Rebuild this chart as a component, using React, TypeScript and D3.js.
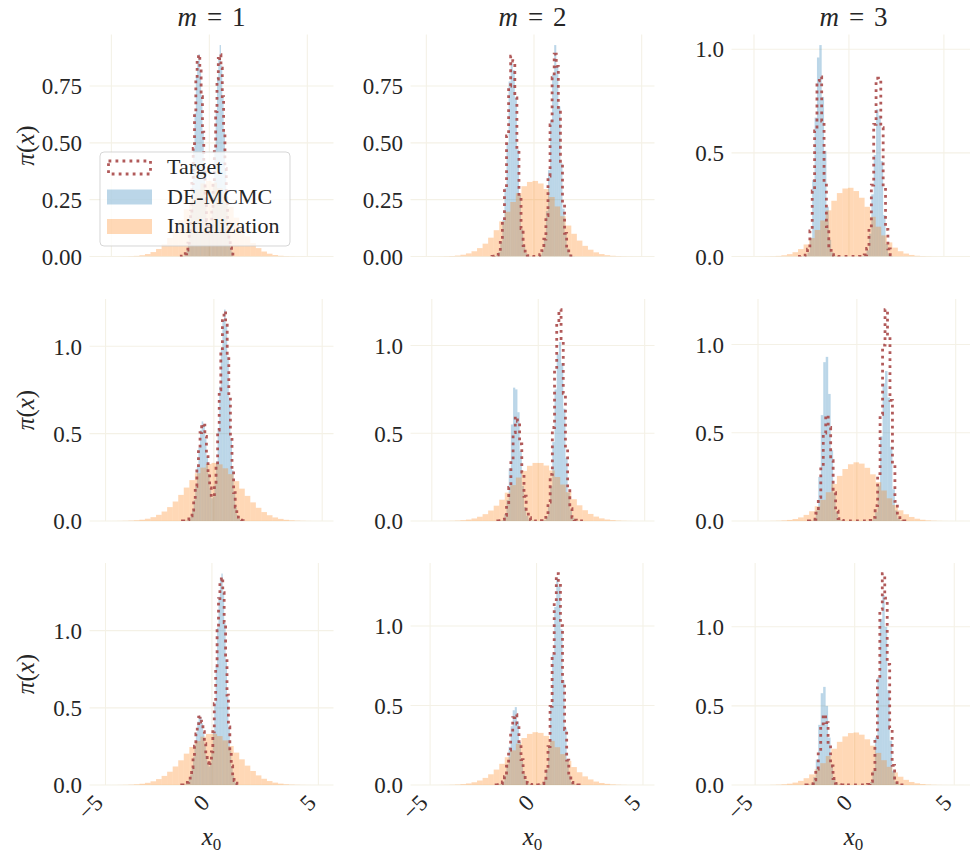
import React from 'react';
import * as d3 from 'd3';

// ---------- data ----------
const COLUMN_M = ['1', '2', '3'];
const X_TICKS = [-5, 0, 5];
const Y_TICKS = [
  [0, 0.25, 0.5, 0.75], [0, 0.25, 0.5, 0.75], [0, 0.5, 1.0],
  [0, 0.5, 1.0], [0, 0.5, 1.0], [0, 0.5, 1.0],
  [0, 0.5, 1.0], [0, 0.5, 1.0], [0, 0.5, 1.0],
];
const LEGEND_LABELS = ['Target', 'DE-MCMC', 'Initialization'];

// histogram ranges (min, max of the samples) per panel, row-major
const INIT_RANGES = [
  [-5.55, 5.77], [-5.22, 5.08], [-5.6, 6.08],
  [-5.23, 5.01], [-5.48, 4.94], [-5.78, 5.44],
  [-5.23, 5.19], [-5.4, 5.02], [-5.63, 5.51],
];
const SAMPLE_RANGES = [
  [-1.5, 1.2], [-1.95, 1.9], [-2.68, 2.3],
  [-1.45, 1.5], [-1.9, 2.2], [-2.45, 2.55],
  [-1.42, 1.24], [-1.9, 2.0], [-2.45, 2.5],
];

// Initialization histograms (40 bins, density)
const INIT_11 = [0.0001, 0, 0.0001, 0.0002, 0.0006, 0.0013, 0.0028, 0.0056, 0.0107, 0.0194, 0.0331, 0.0534, 0.0815, 0.1178, 0.1609, 0.2079, 0.2545, 0.2938, 0.3213, 0.3324, 0.3252, 0.3011, 0.2636, 0.2183, 0.1710, 0.1267, 0.0888, 0.0589, 0.0369, 0.0219, 0.0123, 0.0065, 0.0032, 0.0015, 0.0007, 0.0003, 0.0001, 0, 0, 0.0001];
const INIT_12 = [0.0001, 0.0001, 0.0002, 0.0005, 0.0011, 0.0022, 0.0042, 0.0078, 0.0137, 0.0230, 0.0369, 0.0565, 0.0828, 0.1157, 0.1545, 0.1968, 0.2397, 0.2786, 0.3093, 0.3280, 0.3324, 0.3212, 0.2966, 0.2616, 0.2203, 0.1773, 0.1361, 0.0999, 0.0699, 0.0468, 0.0299, 0.0183, 0.0106, 0.0059, 0.0032, 0.0016, 0.0008, 0.0004, 0.0002, 0.0001];
const INIT_13 = [0.0001, 0, 0.0001, 0.0002, 0.0006, 0.0013, 0.0029, 0.0059, 0.0114, 0.0208, 0.0358, 0.0581, 0.0888, 0.1280, 0.1739, 0.2228, 0.2689, 0.3059, 0.3280, 0.3315, 0.3157, 0.2835, 0.2398, 0.1913, 0.1438, 0.1019, 0.0680, 0.0428, 0.0254, 0.0142, 0.0075, 0.0037, 0.0017, 0.0008, 0.0003, 0.0001, 0, 0, 0, 0.0001];
const INIT_21 = [0.0001, 0.0001, 0.0002, 0.0005, 0.0010, 0.0021, 0.0040, 0.0074, 0.0130, 0.0219, 0.0353, 0.0542, 0.0795, 0.1115, 0.1494, 0.1913, 0.2340, 0.2735, 0.3055, 0.3260, 0.3325, 0.3240, 0.3016, 0.2683, 0.2281, 0.1852, 0.1438, 0.1066, 0.0755, 0.0511, 0.0331, 0.0204, 0.0121, 0.0068, 0.0037, 0.0019, 0.0009, 0.0004, 0.0002, 0.0001];
const INIT_22 = [0.0001, 0, 0.0001, 0.0002, 0.0005, 0.0011, 0.0023, 0.0044, 0.0082, 0.0145, 0.0243, 0.0390, 0.0597, 0.0873, 0.1215, 0.1615, 0.2047, 0.2477, 0.2857, 0.3145, 0.3310, 0.3308, 0.3161, 0.2882, 0.2507, 0.2079, 0.1646, 0.1242, 0.0895, 0.0615, 0.0403, 0.0252, 0.0150, 0.0086, 0.0047, 0.0024, 0.0012, 0.0006, 0.0002, 0.0001];
const INIT_23 = [0.0001, 0, 0, 0.0001, 0.0003, 0.0007, 0.0014, 0.0031, 0.0061, 0.0114, 0.0204, 0.0345, 0.0552, 0.0837, 0.1200, 0.1631, 0.2097, 0.2555, 0.2945, 0.3216, 0.3325, 0.3252, 0.3013, 0.2645, 0.2198, 0.1728, 0.1287, 0.0907, 0.0606, 0.0383, 0.0229, 0.0130, 0.0070, 0.0035, 0.0017, 0.0008, 0.0003, 0.0001, 0, 0.0001];
const INIT_31 = [0.0001, 0.0001, 0.0002, 0.0005, 0.0011, 0.0022, 0.0043, 0.0080, 0.0141, 0.0239, 0.0383, 0.0589, 0.0861, 0.1200, 0.1600, 0.2032, 0.2463, 0.2848, 0.3132, 0.3308, 0.3311, 0.3169, 0.2891, 0.2523, 0.2097, 0.1664, 0.1255, 0.0907, 0.0623, 0.0404, 0.0256, 0.0154, 0.0088, 0.0047, 0.0025, 0.0012, 0.0006, 0.0003, 0.0001, 0.0001];
const INIT_32 = [0.0001, 0, 0.0001, 0.0003, 0.0007, 0.0014, 0.0028, 0.0054, 0.0098, 0.0171, 0.0282, 0.0447, 0.0674, 0.0971, 0.1332, 0.1746, 0.2181, 0.2601, 0.2957, 0.3213, 0.3321, 0.3279, 0.3089, 0.2774, 0.2379, 0.1945, 0.1518, 0.1128, 0.0802, 0.0543, 0.0351, 0.0217, 0.0127, 0.0072, 0.0038, 0.0019, 0.0009, 0.0004, 0.0002, 0.0001];
const INIT_33 = [0.0001, 0, 0.0001, 0.0002, 0.0004, 0.0010, 0.0021, 0.0043, 0.0082, 0.0151, 0.0262, 0.0430, 0.0670, 0.0988, 0.1379, 0.1827, 0.2292, 0.2727, 0.3071, 0.3280, 0.3317, 0.3180, 0.2888, 0.2486, 0.2027, 0.1567, 0.1147, 0.0796, 0.0523, 0.0326, 0.0192, 0.0107, 0.0057, 0.0028, 0.0013, 0.0006, 0.0003, 0.0001, 0, 0.0001];

// DE-MCMC histograms (40 bins over SAMPLE_RANGES)
const MCMC_11 = [0, 0.001, 0.002, 0.005, 0.011, 0.03, 0.06, 0.115, 0.2, 0.33, 0.47, 0.63, 0.79, 0.86, 0.89, 0.82, 0.71, 0.55, 0.38, 0.26, 0.16, 0.11, 0.1, 0.13, 0.21, 0.32, 0.47, 0.64, 0.79, 0.87, 0.93, 0.84, 0.7, 0.55, 0.39, 0.25, 0.15, 0.08, 0.04, 0.02];
const MCMC_12 = [0, 0.001, 0.006, 0.02, 0.065, 0.16, 0.3, 0.5, 0.77, 0.85, 0.82, 0.7, 0.47, 0.27, 0.12, 0.05, 0.015, 0.004, 0.001, 0, 0, 0, 0.002, 0.008, 0.027, 0.08, 0.2, 0.38, 0.6, 0.8, 0.93, 0.84, 0.66, 0.41, 0.21, 0.1, 0.035, 0.01, 0.003, 0.001];
const MCMC_13 = [0, 0, 0.001, 0.005, 0.02, 0.09, 0.37, 0.67, 0.96, 1.02, 0.77, 0.51, 0.24, 0.08, 0.02, 0.004, 0, 0, 0, 0, 0, 0, 0, 0, 0, 0, 0, 0.002, 0.008, 0.03, 0.11, 0.3, 0.49, 0.71, 0.68, 0.46, 0.2, 0.06, 0.015, 0.003];
const MCMC_21 = [0, 0.0005, 0.002, 0.005, 0.013, 0.03, 0.065, 0.12, 0.2, 0.31, 0.42, 0.52, 0.57, 0.55, 0.47, 0.37, 0.27, 0.18, 0.13, 0.14, 0.21, 0.34, 0.53, 0.77, 0.99, 1.15, 1.21, 1.12, 0.94, 0.7, 0.47, 0.29, 0.16, 0.08, 0.034, 0.013, 0.005, 0.002, 0.0005, 0.0001];
const MCMC_22 = [0, 0.001, 0.005, 0.04, 0.12, 0.3, 0.55, 0.76, 0.75, 0.62, 0.4, 0.2, 0.08, 0.03, 0.01, 0.003, 0.001, 0, 0, 0, 0.001, 0.005, 0.025, 0.08, 0.2, 0.45, 0.75, 0.95, 1.02, 0.9, 0.64, 0.36, 0.16, 0.06, 0.02, 0.005, 0.001, 0, 0, 0];
const MCMC_23 = [0, 0, 0.01, 0.06, 0.25, 0.6, 0.9, 0.93, 0.72, 0.4, 0.16, 0.05, 0.01, 0.002, 0, 0, 0, 0, 0, 0, 0, 0, 0, 0, 0, 0.002, 0.01, 0.05, 0.2, 0.48, 0.78, 0.85, 0.7, 0.42, 0.18, 0.06, 0.015, 0.003, 0, 0];
const MCMC_31 = [0, 0.001, 0.003, 0.008, 0.018, 0.036, 0.068, 0.115, 0.18, 0.26, 0.34, 0.41, 0.45, 0.44, 0.4, 0.33, 0.26, 0.19, 0.14, 0.12, 0.14, 0.21, 0.34, 0.53, 0.77, 1.02, 1.22, 1.34, 1.37, 1.25, 1.05, 0.81, 0.57, 0.37, 0.22, 0.12, 0.06, 0.028, 0.012, 0.004];
const MCMC_32 = [0, 0.002, 0.007, 0.022, 0.06, 0.13, 0.24, 0.37, 0.47, 0.49, 0.4, 0.27, 0.15, 0.07, 0.03, 0.01, 0.003, 0.001, 0, 0, 0, 0.002, 0.01, 0.035, 0.1, 0.24, 0.5, 0.82, 1.12, 1.3, 1.25, 0.98, 0.66, 0.36, 0.16, 0.06, 0.02, 0.005, 0.001, 0];
const MCMC_33 = [0, 0, 0.01, 0.05, 0.16, 0.38, 0.58, 0.62, 0.5, 0.3, 0.13, 0.04, 0.01, 0.002, 0, 0, 0, 0, 0, 0, 0, 0, 0, 0, 0, 0.003, 0.02, 0.09, 0.3, 0.68, 1.05, 1.2, 1.0, 0.6, 0.28, 0.09, 0.02, 0.005, 0.001, 0];

// Target step histograms (40 bins over SAMPLE_RANGES)
const TARGET_11 = [0, 0.001, 0.002, 0.004, 0.012, 0.028, 0.059, 0.113, 0.2, 0.321, 0.475, 0.637, 0.78, 0.871, 0.888, 0.829, 0.703, 0.547, 0.39, 0.256, 0.158, 0.107, 0.098, 0.131, 0.207, 0.324, 0.476, 0.637, 0.78, 0.871, 0.888, 0.829, 0.703, 0.547, 0.388, 0.252, 0.146, 0.079, 0.039, 0.018];
const TARGET_12 = [0.0003, 0.0013, 0.006, 0.021, 0.062, 0.152, 0.312, 0.53, 0.75, 0.881, 0.86, 0.698, 0.471, 0.264, 0.123, 0.048, 0.015, 0.004, 0.001, 0.0002, 0, 0.0004, 0.002, 0.008, 0.026, 0.076, 0.18, 0.354, 0.579, 0.787, 0.89, 0.836, 0.648, 0.419, 0.229, 0.102, 0.037, 0.012, 0.003, 0.001];
const TARGET_13 = [0, 0.0001, 0.001, 0.007, 0.035, 0.123, 0.316, 0.606, 0.847, 0.867, 0.653, 0.359, 0.144, 0.043, 0.009, 0.0014, 0.0002, 0, 0, 0, 0, 0, 0, 0, 0, 0, 0.0002, 0.001, 0.008, 0.039, 0.136, 0.344, 0.637, 0.86, 0.855, 0.622, 0.335, 0.131, 0.037, 0.008];
const TARGET_21 = [0.0001, 0.0005, 0.0016, 0.0047, 0.012, 0.029, 0.062, 0.117, 0.199, 0.302, 0.413, 0.506, 0.556, 0.548, 0.484, 0.385, 0.279, 0.189, 0.138, 0.138, 0.202, 0.333, 0.52, 0.751, 0.978, 1.147, 1.2, 1.129, 0.952, 0.713, 0.482, 0.297, 0.162, 0.08, 0.034, 0.014, 0.005, 0.002, 0.0005, 0.0001];
const TARGET_22 = [0.0004, 0.002, 0.009, 0.032, 0.088, 0.192, 0.346, 0.504, 0.595, 0.568, 0.439, 0.278, 0.141, 0.058, 0.019, 0.005, 0.001, 0.0002, 0, 0.0004, 0.002, 0.009, 0.035, 0.108, 0.266, 0.533, 0.865, 1.13, 1.205, 1.04, 0.727, 0.411, 0.188, 0.071, 0.021, 0.005, 0.001, 0.0001, 0, 0];
const TARGET_23 = [0.0002, 0.002, 0.01, 0.044, 0.134, 0.303, 0.498, 0.599, 0.53, 0.342, 0.161, 0.056, 0.014, 0.003, 0.0004, 0, 0, 0, 0, 0, 0, 0, 0, 0, 0.0005, 0.004, 0.021, 0.087, 0.269, 0.605, 0.996, 1.198, 1.059, 0.683, 0.323, 0.111, 0.028, 0.005, 0.001, 0.0001];
const TARGET_31 = [0.0004, 0.0012, 0.003, 0.008, 0.017, 0.035, 0.065, 0.112, 0.176, 0.251, 0.331, 0.398, 0.439, 0.442, 0.408, 0.345, 0.268, 0.198, 0.145, 0.122, 0.143, 0.215, 0.345, 0.527, 0.757, 1.0, 1.208, 1.331, 1.347, 1.246, 1.053, 0.822, 0.582, 0.377, 0.223, 0.123, 0.061, 0.028, 0.012, 0.004];
const TARGET_32 = [0.0003, 0.0015, 0.006, 0.02, 0.053, 0.118, 0.22, 0.334, 0.424, 0.443, 0.383, 0.273, 0.16, 0.079, 0.032, 0.011, 0.003, 0.0007, 0.0001, 0, 0.0004, 0.002, 0.009, 0.033, 0.097, 0.242, 0.495, 0.828, 1.156, 1.33, 1.267, 1.002, 0.651, 0.349, 0.157, 0.057, 0.017, 0.004, 0.001, 0.0001];
const TARGET_33 = [0.0002, 0.0013, 0.008, 0.032, 0.1, 0.225, 0.37, 0.445, 0.394, 0.254, 0.12, 0.041, 0.01, 0.002, 0.0003, 0, 0, 0, 0, 0, 0, 0, 0, 0, 0.0005, 0.004, 0.023, 0.097, 0.3, 0.675, 1.11, 1.336, 1.181, 0.762, 0.36, 0.124, 0.031, 0.006, 0.001, 0.0001];

const INIT = [INIT_11, INIT_12, INIT_13, INIT_21, INIT_22, INIT_23, INIT_31, INIT_32, INIT_33];
const MCMC = [MCMC_11, MCMC_12, MCMC_13, MCMC_21, MCMC_22, MCMC_23, MCMC_31, MCMC_32, MCMC_33];
const TARGET = [TARGET_11, TARGET_12, TARGET_13, TARGET_21, TARGET_22, TARGET_23, TARGET_31, TARGET_32, TARGET_33];

// ---------- layout / style ----------
const FIG_W = 970;
const FIG_H = 859;
const COL_LEFT = [89.5, 410.5, 731.5];
const ROW_BOTTOM = [256.5, 521, 785];
const AX_W = 244;
const AX_H = 222;
const FONT = "'Liberation Serif', 'DejaVu Serif', serif";
const TEXT_COLOR = '#262626';
const GRID_COLOR = '#f4f1e6';
const BLUE = '#1f77b4';
const ORANGE = '#ff7f0e';
const RED = '#a84848';
const DASH = '2.8 4.2';

function edges(range: number[], n: number) {
  return d3.range(n + 1).map((i) => range[0] + ((range[1] - range[0]) * i) / n);
}

function Panel({ r, c }: { r: number; c: number }) {
  const idx = r * 3 + c;
  const left = COL_LEFT[c];
  const bottom = ROW_BOTTOM[r];
  const ir = INIT_RANGES[idx];
  const sr = SAMPLE_RANGES[idx];
  const lo = Math.min(ir[0], sr[0]);
  const hi = Math.max(ir[1], sr[1]);
  const pad = (hi - lo) * 0.05;
  const x = d3.scaleLinear().domain([lo - pad, hi + pad]).range([left, left + AX_W]);
  const maxV = d3.max([...INIT[idx], ...MCMC[idx], ...TARGET[idx]]) as number;
  const y = d3.scaleLinear().domain([0, maxV * 1.05]).range([bottom, bottom - AX_H]);
  const top = bottom - AX_H;

  const ie = edges(ir, INIT[idx].length);
  const se = edges(sr, MCMC[idx].length);
  const te = edges(sr, TARGET[idx].length);

  const stepPts: [number, number][] = [[x(te[0]), y(0)]];
  TARGET[idx].forEach((v, i) => {
    stepPts.push([x(te[i]), y(v)]);
    stepPts.push([x(te[i + 1]), y(v)]);
  });
  stepPts.push([x(te[te.length - 1]), y(0)]);
  const stepPath = d3.line()(stepPts) as string;

  const ticks = Y_TICKS[idx];
  const decimals = ticks.some((t) => Math.abs(t * 10 - Math.round(t * 10)) > 1e-6) ? 2 : 1;
  const fmt = d3.format(`.${decimals}f`);
  const clipId = `clip-${idx}`;

  return (
    <g>
      <defs>
        <clipPath id={clipId}>
          <rect x={left} y={top - 2} width={AX_W} height={AX_H + 2} />
        </clipPath>
      </defs>
      {/* grid */}
      {X_TICKS.map((t) => (
        <line key={`gx${t}`} x1={x(t)} x2={x(t)} y1={top} y2={bottom} stroke={GRID_COLOR} strokeWidth={1.1} />
      ))}
      {ticks.map((t) => (
        <line key={`gy${t}`} x1={left} x2={left + AX_W} y1={y(t)} y2={y(t)} stroke={GRID_COLOR} strokeWidth={1.1} />
      ))}
      <g clipPath={`url(#${clipId})`}>
        {MCMC[idx].map((v, i) => (
          <rect key={`b${i}`} x={x(se[i])} width={x(se[i + 1]) - x(se[i])} y={y(v)} height={y(0) - y(v)} fill={BLUE} fillOpacity={0.3} />
        ))}
        {INIT[idx].map((v, i) => (
          <rect key={`o${i}`} x={x(ie[i])} width={x(ie[i + 1]) - x(ie[i])} y={y(v)} height={y(0) - y(v)} fill={ORANGE} fillOpacity={0.3} />
        ))}
        <path d={stepPath} fill="none" stroke={RED} strokeWidth={2.8} strokeDasharray={DASH} strokeOpacity={0.9} />
      </g>
      {/* y tick labels */}
      {ticks.map((t) => (
        <text key={`yl${t}`} x={left - 7.5} y={y(t)} dy="0.36em" textAnchor="end" fontSize={23} fill={TEXT_COLOR}>
          {fmt(t)}
        </text>
      ))}
      {/* x tick labels (bottom row only) */}
      {r === 2 &&
        X_TICKS.map((t) => {
          const px = x(t) - 1;
          const py = bottom + 19;
          return (
            <text key={`xl${t}`} x={px} y={py} textAnchor="end" fontSize={23} fill={TEXT_COLOR} transform={`rotate(-45, ${px}, ${py})`}>
              {t < 0 ? `\u2212${Math.abs(t)}` : `${t}`}
            </text>
          );
        })}
      {/* column title */}
      {r === 0 && (
        <text x={left + AX_W / 2} y={26} textAnchor="middle" fontSize={27} fill={TEXT_COLOR}>
          <tspan fontStyle="italic">m</tspan>
          <tspan dx={10}>=</tspan>
          <tspan dx={10}>{COLUMN_M[c]}</tspan>
        </text>
      )}
      {/* y label */}
      {c === 0 && (
        <text transform={`translate(34, ${(top + bottom) / 2}) rotate(-90)`} textAnchor="middle" fontSize={25} fill={TEXT_COLOR}>
          <tspan fontStyle="italic">π</tspan>(<tspan fontStyle="italic">x</tspan>)
        </text>
      )}
      {/* x label */}
      {r === 2 && (
        <text x={left + AX_W / 2} y={845} textAnchor="middle" fontSize={25} fill={TEXT_COLOR}>
          <tspan fontStyle="italic">x</tspan>
          <tspan fontSize={17} dy={5}>0</tspan>
        </text>
      )}
    </g>
  );
}

function Legend() {
  const bx = 100, by = 152, bw = 190, bh = 94;
  const hx = 107, hw = 45, hh = 15;
  const rows = [160, 189.5, 219];
  return (
    <g>
      <rect x={bx} y={by} width={bw} height={bh} rx={4} ry={4} fill="#ffffff" fillOpacity={0.8} stroke="#cccccc" strokeOpacity={0.8} strokeWidth={1} />
      <rect x={hx + 1.5} y={rows[0] + 1} width={hw - 3} height={hh - 2} fill="none" stroke={RED} strokeWidth={2.8} strokeDasharray={DASH} strokeOpacity={0.9} />
      <rect x={hx} y={rows[1]} width={hw} height={hh} fill={BLUE} fillOpacity={0.3} />
      <rect x={hx} y={rows[2]} width={hw} height={hh} fill={ORANGE} fillOpacity={0.3} />
      {LEGEND_LABELS.map((l, i) => (
        <text key={l} x={167} y={rows[i] + 14} fontSize={22} fill={TEXT_COLOR}>
          {l}
        </text>
      ))}
    </g>
  );
}

export default function App() {
  const cells: [number, number][] = [];
  for (let r = 0; r < 3; r++) for (let c = 0; c < 3; c++) cells.push([r, c]);
  return (
    <svg
      width={FIG_W}
      height={FIG_H}
      viewBox={`0 0 ${FIG_W} ${FIG_H}`}
      style={{ position: 'absolute', left: 0, top: 0, background: '#ffffff' }}
      fontFamily={FONT}
    >
      <rect x={0} y={0} width={FIG_W} height={FIG_H} fill="#ffffff" />
      {cells.map(([r, c]) => (
        <Panel key={`${r}-${c}`} r={r} c={c} />
      ))}
      <Legend />
    </svg>
  );
}
